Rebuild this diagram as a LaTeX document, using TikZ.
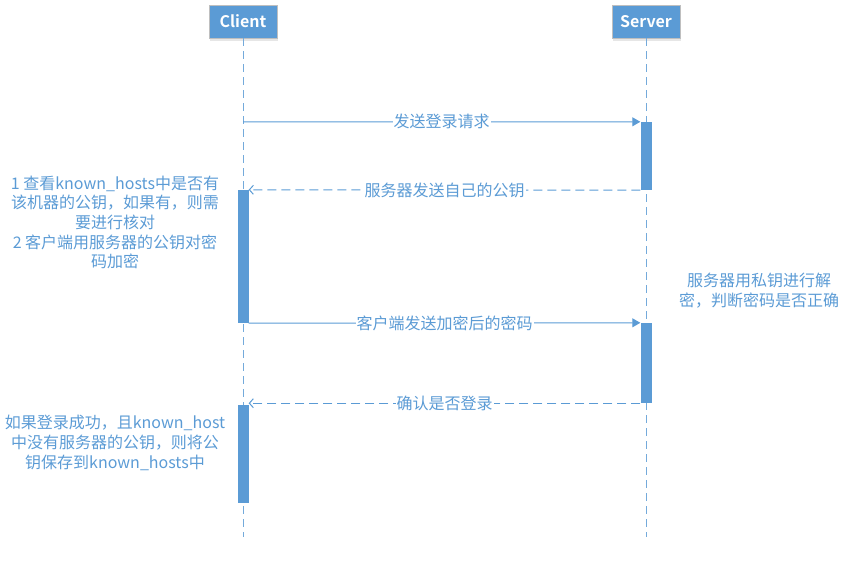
\documentclass[tikz,border=0pt]{standalone}
\usepackage{fontspec}
\setmainfont{Noto Sans CJK SC}[BoldFont={Noto Sans CJK SC Bold}]
\usetikzlibrary{arrows.meta,shadows}
\definecolor{seqblue}{HTML}{5B9BD5}
\definecolor{seqtext}{HTML}{5B9BD5}
\definecolor{headedge}{HTML}{BFBFBF}

\begin{document}
\begin{tikzpicture}[x=1pt,y=-1pt,
  every node/.style={font=\fontsize{16}{19.7}\selectfont},
  head/.style={draw=headedge, fill=seqblue, text=white,
    font=\fontsize{16}{19}\selectfont\bfseries,
    minimum width=68pt, minimum height=33pt, inner sep=0pt,
    drop shadow={opacity=0.2, shadow xshift=0.5pt, shadow yshift=-3pt}},
  life/.style={draw=seqblue!85, line width=1pt, dash pattern=on 8pt off 5pt},
  act/.style={fill=seqblue, draw=none, minimum width=11pt, inner sep=0pt},
  msg/.style={draw=seqblue, line width=1pt, -{Triangle[length=8pt,width=9pt]}},
  reply/.style={draw=seqblue, line width=1pt, dash pattern=on 9pt off 5pt,
    -{Straight Barb[length=4pt,width=9pt]}},
  lbl/.style={fill=white, text=seqtext, inner sep=1pt},
  note/.style={text=seqtext, align=center, inner sep=0pt}]
\useasboundingbox (0,0) rectangle (851,561);

% participants
\node[head] (client) at (243,21.5) {Client};
\node[head] (server) at (646,21.5) {Server};

% lifelines
\coordinate (cend) at (243,537);
\coordinate (send) at (646,537);
\draw[life] (client.south) -- (cend);
\draw[life] (server.south) -- (send);

% activation bars
\node[act, minimum height=68pt] (a1) at (646,156) {};
\node[act, minimum height=133pt] (a2) at (243,256.5) {};
\node[act, minimum height=80pt] (a3) at (646,363) {};
\node[act, minimum height=98pt] (a4) at (243,454) {};

% messages
\coordinate (c1) at (243,122);
\draw[msg] (c1) -- (a1.north west) node[lbl, midway] {发送登录请求};
\draw[reply] (a1.south west) -- (a2.north east) node[lbl, midway] {服务器发送自己的公钥};
\draw[msg] (a2.south east) -- (a3.north west) node[lbl, midway] {客户端发送加密后的密码};
\draw[reply] (a3.south west) -- (a3.south west -| a4.north east) node[lbl, midway] {确认是否登录};

% notes
\node[note] (n1) at (115,222.5) {1 查看known\_hosts中是否有\\该机器的公钥，如果有，则需\\要进行核对\\2 客户端用服务器的公钥对密\\码加密};
\node[note] (n2) at (759,290.5) {服务器用私钥进行解\\密，判断密码是否正确};
\node[note] (n3) at (115,443) {如果登录成功，且known\_host\\中没有服务器的公钥，则将公\\钥保存到known\_hosts中};
\end{tikzpicture}
\end{document}
